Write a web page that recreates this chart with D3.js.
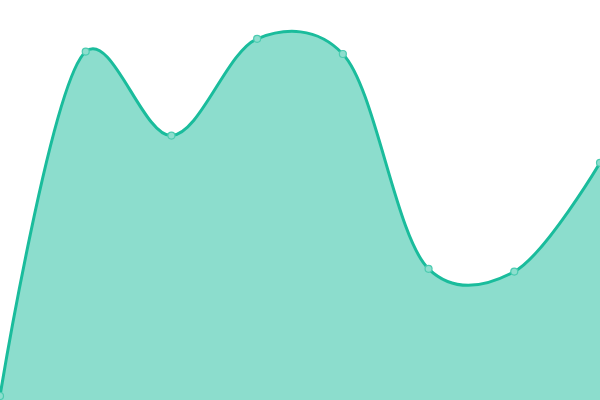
<!DOCTYPE html>
<html>
<head>
<meta charset="utf-8">
<script src="https://cdn.jsdelivr.net/npm/d3@7"></script>
<style>
  body { margin: 0; background: #fff; }
  svg { display: block; }
</style>
</head>
<body>
<script>
// data
var labels = ["A", "B", "C", "D", "E", "F", "G", "H"];
var values = [1, 87.1, 66.1, 90.3, 86.5, 32.8, 32.1, 59.3];

var width = 600,
    height = 400;

var svg = d3.select("body").append("svg")
    .attr("width", width)
    .attr("height", height);

var x = d3.scalePoint()
    .domain(labels)
    .range([0, width]);

var y = d3.scaleLinear()
    .domain([0, 100])
    .range([height, 0]);

var data = labels.map(function(d, i) { return {label: d, value: values[i]}; });

var curve = d3.curveCatmullRom.alpha(0.25);

var area = d3.area()
    .x(function(d) { return x(d.label); })
    .y0(height)
    .y1(function(d) { return y(d.value); })
    .curve(curve);

var line = d3.line()
    .x(function(d) { return x(d.label); })
    .y(function(d) { return y(d.value); })
    .curve(curve);

svg.append("path")
    .datum(data)
    .attr("d", area)
    .style("fill", "#1abc9c")
    .style("fill-opacity", 0.5);

svg.append("path")
    .datum(data)
    .attr("d", line)
    .style("fill", "none")
    .style("stroke", "#1abc9c")
    .style("stroke-width", 3);

svg.selectAll("circle")
    .data(data)
    .enter()
    .append("circle")
      .attr("cx", function(d) { return x(d.label); })
      .attr("cy", function(d) { return y(d.value); })
      .attr("r", 3.5)
      .style("fill", "#8ddece")
      .style("stroke", "#4ccbb0")
      .style("stroke-width", 1.2);
</script>
</body>
</html>
